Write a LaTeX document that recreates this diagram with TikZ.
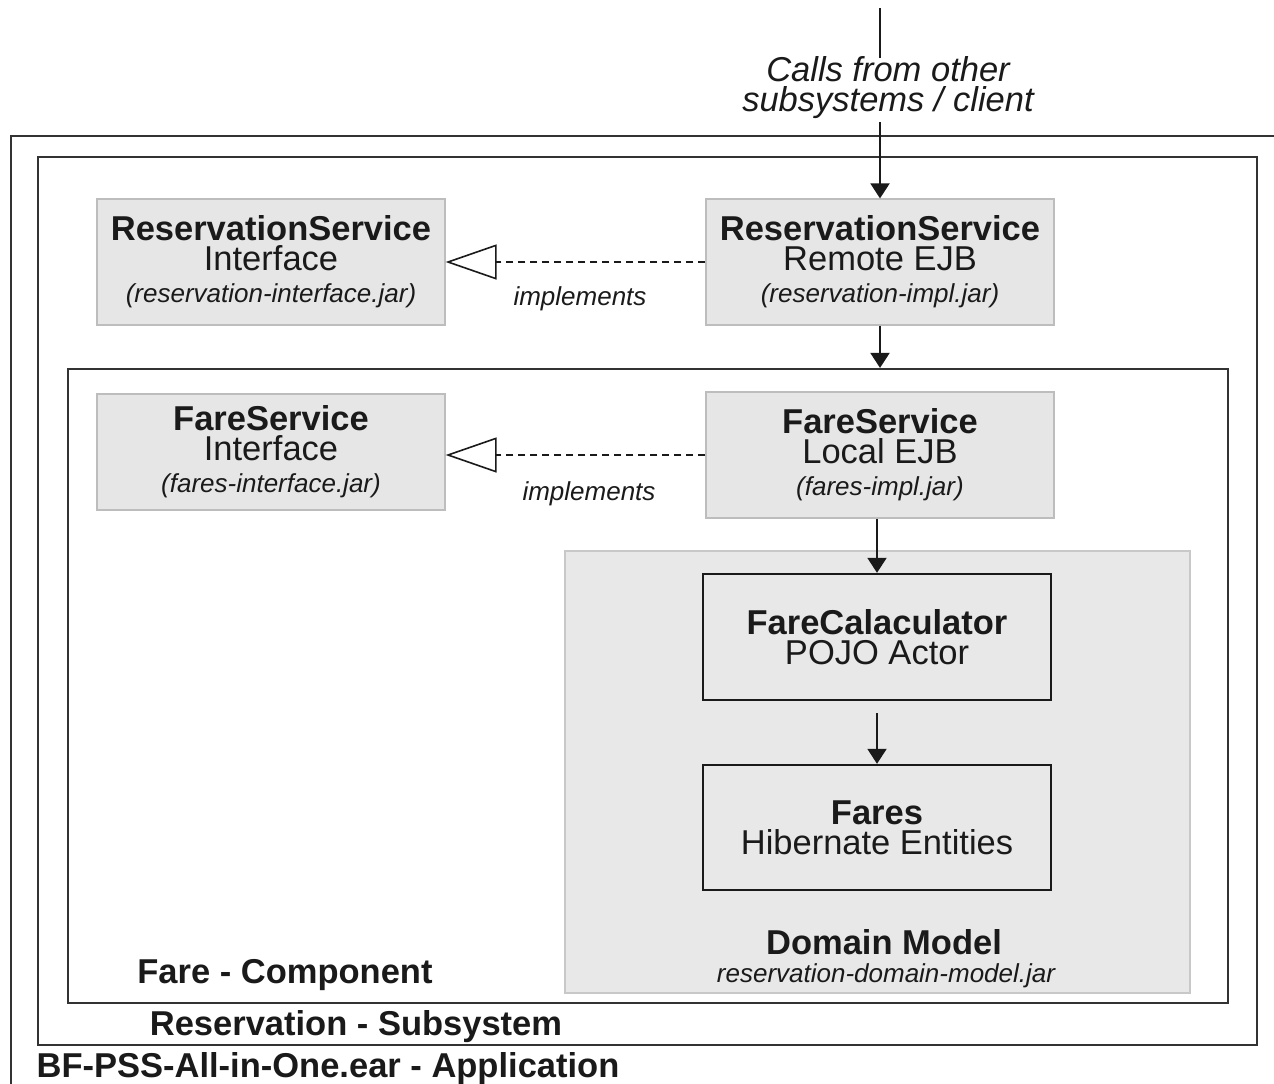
\documentclass[tikz,border=0pt]{standalone}
\usepackage{fontspec}
\setmainfont{Liberation Sans}
\usetikzlibrary{arrows.meta}
\definecolor{boxfill}{HTML}{E6E6E6}
\definecolor{boxline}{HTML}{BDBDBD}
\definecolor{dmfill}{HTML}{E8E8E8}
\definecolor{dmline}{HTML}{C8C8C8}
\definecolor{frameline}{HTML}{333333}
\definecolor{ink}{HTML}{1A1A1A}
\newcommand\bigfnt{\fontsize{17.25}{15}\selectfont}
\newcommand\smallit{\fontsize{13}{15}\selectfont\itshape}
\begin{document}
\begin{tikzpicture}[x=0.5pt,y=-0.5pt,
  graybox/.style={draw=boxline, fill=boxfill, line width=0.6pt, minimum width=174pt,
    minimum height=63pt, inner sep=0pt, align=center, font=\bigfnt, text=ink},
  blackbox/.style={draw=ink, fill=dmfill, line width=1.2pt, minimum width=174pt,
    minimum height=63pt, inner sep=0pt, align=center, font=\bigfnt, text=ink},
  frame/.style={draw=frameline, line width=1.1pt, inner sep=0pt},
  lbl/.style={font=\bigfnt\bfseries, text=ink, inner sep=0pt, anchor=base},
  smlbl/.style={font=\smallit, text=ink, inner sep=0pt, anchor=base},
  flow/.style={draw=ink, line width=1pt, -{Triangle[length=7.5pt,width=9.5pt]}},
  impl/.style={draw=ink, line width=0.8pt, dashed, dash pattern=on 3.5pt off 2.5pt,
    -{Triangle[open,length=25.5pt,width=17.5pt,fill=white]}}
]
\useasboundingbox (0,0) rectangle (1274,1083);
\clip (0,0) rectangle (1274,1083);
\fill[white] (0,0) rectangle (1274,1083);

% outer application frame (runs off the page)
\node[frame, minimum width=650pt, minimum height=490pt, anchor=north west] (app) at (10,135) {};

% reservation subsystem
\node[frame, minimum width=609.5pt, minimum height=444pt] (rs) at (647.5,601) {};
% fare component
\node[frame, minimum width=580pt, minimum height=317pt] (fc) at (648,686) {};
% domain model
\node[draw=dmline, fill=dmfill, line width=0.8pt, minimum width=312.5pt, minimum height=221pt, inner sep=0pt] (dm) at (877.5,772) {};

% boxes
\node[graybox] (ri) at (271,262) {\textbf{ReservationService}\\Interface\\[1pt]{\smallit (reservation-interface.jar)}};
\node[graybox] (re) at (880,262) {\textbf{ReservationService}\\Remote EJB\\[1pt]{\smallit (reservation-impl.jar)}};
\node[graybox, minimum height=58pt] (fi) at (271,452) {\textbf{FareService}\\Interface\\[1pt]{\smallit (fares-interface.jar)}};
\node[graybox] (fl) at (880,455) {\textbf{FareService}\\Local EJB\\[1pt]{\smallit (fares-impl.jar)}};
\node[blackbox] (calc) at (877,637) {\textbf{FareCalaculator}\\POJO Actor};
\node[blackbox, minimum height=62.5pt] (fares) at (877,827.5) {\textbf{Fares}\\Hibernate Entities};

% labels
\node[lbl] (dml) at (884,954) {Domain Model};
\node[smlbl] (dmj) at (886,982) {reservation-domain-model.jar};
\node[lbl] (fcl) at (285,983) {Fare - Component};
\node[lbl] (rsl) at (356,1035) {Reservation - Subsystem};
\node[lbl] (appl) at (328,1077) {BF-PSS-All-in-One.ear - Application};

% incoming calls
\coordinate (ctop) at (880,8);
\coordinate (cA) at (880,58);
\coordinate (cB) at (880,122);
\node[font=\bigfnt\itshape, text=ink, align=center, inner sep=0pt] (calls) at (888,88) {Calls from other\\subsystems / client};
\draw[draw=ink, line width=1pt] (ctop) -- (cA);
\draw[flow] (cB) -- (re.north);

% flows
\draw[flow] (re.south) -- (re.south |- fc.north);
\draw[flow] (fl.south -| calc.north) -- (calc.north);
\draw[flow, shorten <=6pt] (calc.south) -- (fares.north);

% implements
\draw[impl] (re.west) -- (ri.east);
\node[smlbl] (imp1) at (580,305) {implements};
\draw[impl] (fl.west) -- (fl.west -| fi.east);
\node[smlbl] (imp2) at (589,500) {implements};
\end{tikzpicture}
\end{document}
